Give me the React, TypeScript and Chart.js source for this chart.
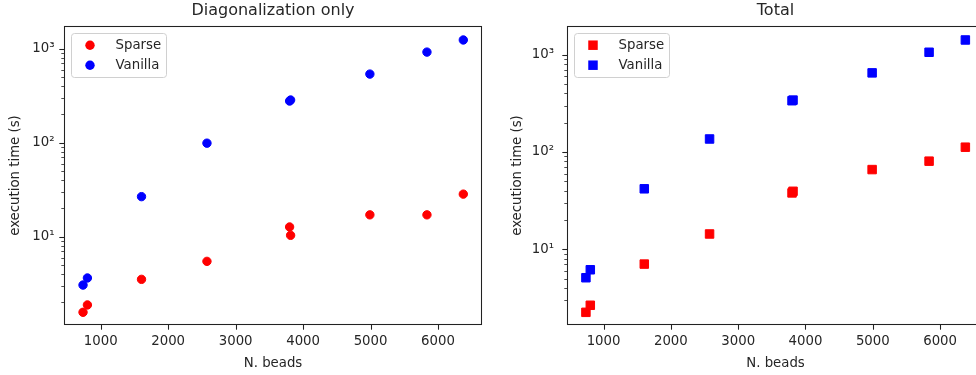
import React, { useEffect, useRef } from 'react';
import { Chart, registerables } from 'chart.js';

Chart.register(...registerables);

// ---- data ----
const beads = [738, 803, 1605, 2575, 3800, 3815, 4990, 5836, 6375];
const diagSparse = [1.57, 1.88, 3.52, 5.47, 12.7, 10.35, 17.1, 17.1, 28.4];
const diagVanilla = [3.06, 3.64, 26.7, 99, 278, 285, 538, 922, 1241];
const totalSparse = [2.26, 2.67, 7.07, 14.4, 38.0, 39.5, 66, 80.5, 112];
const totalVanilla = [5.12, 6.18, 41.9, 136, 336, 341, 649, 1056, 1412];
const seriesNames = ['Sparse', 'Vanilla'];
const seriesColors = ['#ff0000', '#0000ff'];
const panelTitles = ['Diagonalization only', 'Total'];
const xAxisLabel = 'N. beads';
const yAxisLabel = 'execution time (s)';
const xTickStep = 1000;

const FONT = "'DejaVu Sans', 'Liberation Sans', sans-serif";
const TEXT = '#262626';
const SUP: Record<string, string> = { '-': '⁻', '0': '⁰', '1': '¹', '2': '²', '3': '³', '4': '⁴', '5': '⁵', '6': '⁶', '7': '⁷', '8': '⁸', '9': '⁹' };
const sup = (n: number) => String(n).split('').map((c) => SUP[c] || c).join('');

type Panel = {
  title: string;
  sparse: number[];
  vanilla: number[];
  pointStyle: 'circle' | 'rect';
  radius: number;
  xMin: number;
  xMax: number;
  yMin: number;
  yMax: number;
  canvasLeft: number;
  canvasWidth: number;
  areaLeft: number;
  areaRight: number;
  yTickPad: number;
  yTitlePad: number;
};

const panels: Panel[] = [
  {
    title: panelTitles[0], sparse: diagSparse, vanilla: diagVanilla, pointStyle: 'circle', radius: 4.2,
    xMin: 456, xMax: 6652, yMin: 1.15, yMax: 1748,
    canvasLeft: 0, canvasWidth: 490, areaLeft: 64, areaRight: 482, yTickPad: 9.5, yTitlePad: 7.3,
  },
  {
    title: panelTitles[1], sparse: totalSparse, vanilla: totalVanilla, pointStyle: 'rect', radius: 6,
    xMin: 457, xMax: 6652, yMin: 1.675, yMax: 1965,
    canvasLeft: 490, canvasWidth: 510, areaLeft: 77, areaRight: 494, yTickPad: 13, yTitlePad: 19.7,
  },
];

const framePlugin = {
  id: 'mplFrame',
  afterDraw(chart: any) {
    const { ctx, chartArea: a, scales } = chart;
    const xs = scales.x;
    const ys = scales.y;
    ctx.save();
    ctx.strokeStyle = '#222222';
    // x ticks
    ctx.lineWidth = 1.07;
    xs.ticks.forEach((t: any) => {
      const px = Math.round(xs.getPixelForValue(t.value)) + 0.5;
      ctx.beginPath();
      ctx.moveTo(px, a.bottom);
      ctx.lineTo(px, a.bottom + 4.7);
      ctx.stroke();
    });
    // y ticks (major + minor from the log scale's own ticks)
    ys.ticks.forEach((t: any) => {
      const v = t.value;
      const e = Math.floor(Math.log10(v) + 1e-9);
      const m = v / Math.pow(10, e);
      if (Math.abs(m - Math.round(m)) > 1e-6) return;
      const major = Math.round(m) === 1;
      const py = Math.round(ys.getPixelForValue(v)) + 0.5;
      ctx.lineWidth = major ? 1.07 : 0.8;
      ctx.beginPath();
      ctx.moveTo(a.left, py);
      ctx.lineTo(a.left - (major ? 4.7 : 2.7), py);
      ctx.stroke();
    });
    // spines
    ctx.lineWidth = 1.07;
    ctx.strokeRect(a.left + 0.5, a.top + 0.5, a.right - a.left - 1, a.bottom - a.top - 1);

    // legend (upper left, inside axes)
    const bx = a.left + 7.5;
    const by = a.top + 7.5;
    const bw = 95;
    const bh = 44;
    const r = 3;
    ctx.beginPath();
    ctx.moveTo(bx + r, by);
    ctx.lineTo(bx + bw - r, by);
    ctx.arcTo(bx + bw, by, bx + bw, by + r, r);
    ctx.lineTo(bx + bw, by + bh - r);
    ctx.arcTo(bx + bw, by + bh, bx + bw - r, by + bh, r);
    ctx.lineTo(bx + r, by + bh);
    ctx.arcTo(bx, by + bh, bx, by + bh - r, r);
    ctx.lineTo(bx, by + r);
    ctx.arcTo(bx, by, bx + r, by, r);
    ctx.closePath();
    ctx.fillStyle = 'rgba(255,255,255,0.8)';
    ctx.fill();
    ctx.strokeStyle = '#d0d0d0';
    ctx.lineWidth = 1;
    ctx.stroke();
    chart.data.datasets.forEach((ds: any, i: number) => {
      const cy = by + 11.7 + i * 20;
      const cx = bx + 18.5;
      ctx.fillStyle = ds.backgroundColor;
      if (ds.pointStyle === 'rect') {
        const s = ds.pointRadius * Math.SQRT1_2 + 0.5;
        ctx.fillRect(cx - s, cy - s, 2 * s, 2 * s);
      } else {
        ctx.beginPath();
        ctx.arc(cx, cy, ds.pointRadius + 0.5, 0, Math.PI * 2);
        ctx.fill();
      }
      ctx.fillStyle = TEXT;
      ctx.font = `13.3px ${FONT}`;
      ctx.textAlign = 'left';
      ctx.textBaseline = 'middle';
      ctx.fillText(ds.label, bx + 44, cy);
    });
    ctx.restore();
  },
};

function PanelChart({ p }: { p: Panel }) {
  const ref = useRef<HTMLCanvasElement | null>(null);
  useEffect(() => {
    if (!ref.current) return;
    const mk = (vals: number[]) => beads.map((x, i) => ({ x, y: vals[i] }));
    const tickFont = { family: FONT, size: 13.3 };
    const chart = new Chart(ref.current, {
      type: 'scatter',
      data: {
        datasets: [p.sparse, p.vanilla].map((vals, i) => ({
          label: seriesNames[i],
          data: mk(vals),
          backgroundColor: seriesColors[i],
          borderColor: seriesColors[i],
          borderWidth: 1,
          pointStyle: p.pointStyle,
          pointRadius: p.radius,
          pointHoverRadius: p.radius,
        })),
      },
      options: {
        responsive: false,
        animation: false,
        devicePixelRatio: 1,
        events: [],
        layout: { padding: { left: 0, right: p.canvasWidth - p.areaRight, top: 0, bottom: 0 } },
        plugins: {
          legend: { display: false },
          tooltip: { enabled: false },
          title: {
            display: true,
            text: p.title,
            fullSize: false,
            color: TEXT,
            font: { family: FONT, size: 16, weight: 'normal', lineHeight: 1.2 },
            padding: { top: 1.7, bottom: 5.1 },
          },
        },
        scales: {
          x: {
            type: 'linear',
            min: p.xMin,
            max: p.xMax,
            afterFit: (s: any) => { s.height = 50; },
            afterBuildTicks: (s: any) => {
              const out: any[] = [];
              for (let v = Math.ceil(s.min / xTickStep) * xTickStep; v <= s.max; v += xTickStep) out.push({ value: v });
              s.ticks = out;
            },
            grid: { display: false, drawTicks: false },
            border: { display: false },
            ticks: {
              padding: 9,
              color: TEXT,
              font: tickFont,
              maxRotation: 0,
              minRotation: 0,
              autoSkip: false,
              callback: (v: any) => String(Math.round(Number(v))),
            },
            title: { display: true, text: xAxisLabel, color: TEXT, font: tickFont, padding: { top: 0, bottom: 3 } },
          },
          y: {
            type: 'logarithmic',
            min: p.yMin,
            max: p.yMax,
            afterFit: (s: any) => { s.width = p.areaLeft; },
            grid: { display: false, drawTicks: false },
            border: { display: false },
            ticks: {
              autoSkip: false,
              padding: p.yTickPad,
              color: TEXT,
              font: tickFont,
              callback: (value: any) => {
                const v = Number(value);
                const e = Math.round(Math.log10(v));
                return Math.abs(v - Math.pow(10, e)) < 1e-9 * v ? '10' + sup(e) : '';
              },
            },
            title: { display: true, text: yAxisLabel, color: TEXT, font: tickFont, padding: { top: p.yTitlePad, bottom: 0 } },
          },
        },
      } as any,
      plugins: [framePlugin],
    });
    return () => chart.destroy();
  }, [p]);
  return (
    <canvas
      ref={ref}
      width={p.canvasWidth}
      height={375}
      style={{ position: 'absolute', left: p.canvasLeft, top: 0, width: p.canvasWidth, height: 375 }}
    />
  );
}

export default function App() {
  return (
    <div style={{ position: 'fixed', left: 0, top: 0, width: 976, height: 375, overflow: 'hidden', background: '#fff' }}>
      {panels.map((p, i) => (
        <PanelChart key={i} p={p} />
      ))}
    </div>
  );
}
